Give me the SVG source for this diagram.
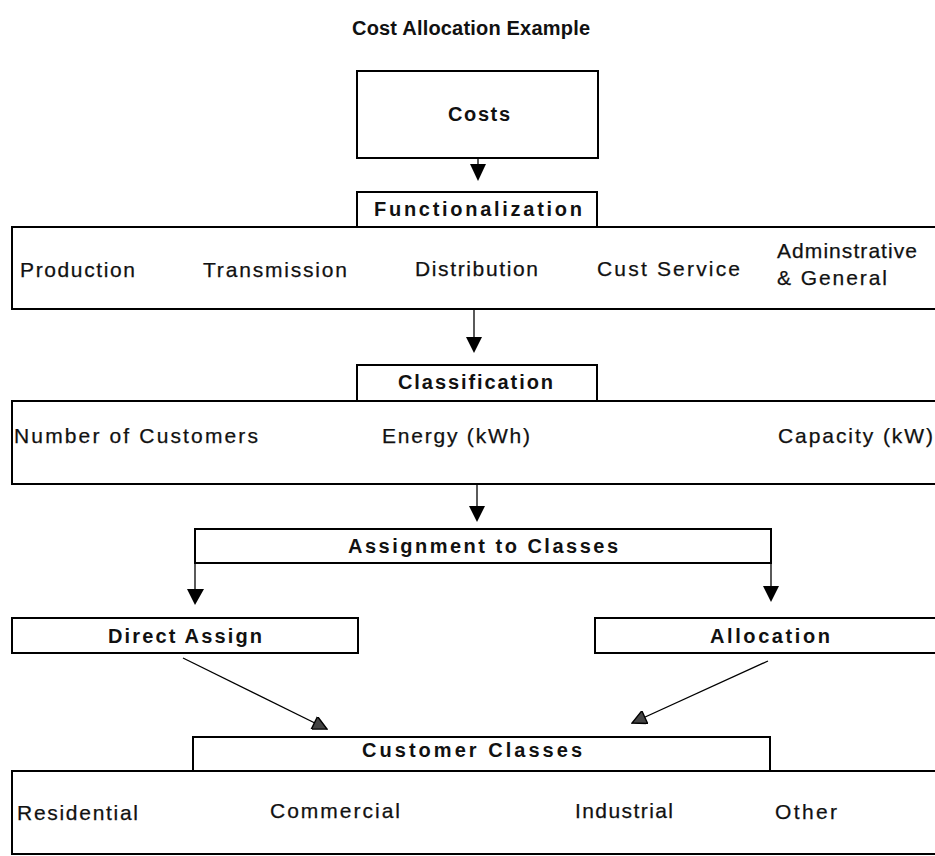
<svg xmlns="http://www.w3.org/2000/svg" width="935" height="856" viewBox="0 0 935 856">
<defs>
<style>
.box{fill:#fff;stroke:#000;stroke-width:2}
.t{font-family:"Liberation Sans",Arial,sans-serif;font-size:21px;fill:#111;stroke:#111;stroke-width:0.25}
.b{font-family:"Liberation Sans",Arial,sans-serif;font-size:20px;font-weight:bold;fill:#111}
.ln{stroke:#000;stroke-width:1.3;fill:none}
.head{fill:#000}
</style>
<marker id="tri" viewBox="0 0 10 10" refX="10" refY="5" markerWidth="17" markerHeight="14" markerUnits="userSpaceOnUse" orient="auto">
<path d="M0,0 L10,5 L0,10 Z" fill="#444" stroke="#000" stroke-width="1"/>
</marker>
</defs>
<rect width="935" height="856" fill="#fff"/>
<text id="title" class="b" x="352" y="35" font-size="17" textLength="238" lengthAdjust="spacing">Cost Allocation Example</text>

<g id="connectors">
<line class="ln" x1="478" y1="158" x2="478" y2="170"/>
<path class="head" d="M470,164 L486,164 L478,181 Z"/>
<line class="ln" x1="474" y1="309" x2="474" y2="340"/>
<path class="head" d="M466,337 L482,337 L474,353 Z"/>
<line class="ln" x1="477" y1="484" x2="477" y2="510"/>
<path class="head" d="M469,506 L485,506 L477,522 Z"/>
<line class="ln" x1="195" y1="563" x2="195" y2="592"/>
<path class="head" d="M187,589 L204,589 L195,605 Z"/>
<line class="ln" x1="771" y1="563" x2="771" y2="590"/>
<path class="head" d="M763,586 L779,586 L771,602 Z"/>
<line class="ln" x1="183" y1="658" x2="327" y2="729" marker-end="url(#tri)"/>
<line class="ln" x1="768" y1="661" x2="632" y2="723" marker-end="url(#tri)"/>
</g>

<g id="costs">
<rect class="box" x="357" y="71" width="241" height="87"/>
<text class="b" x="448" y="121" textLength="62" lengthAdjust="spacing">Costs</text>
</g>

<g id="functions">
<rect class="box" x="12" y="227" width="930" height="82"/>
<text class="t" x="20" y="277" textLength="115" lengthAdjust="spacing">Production</text>
<text class="t" x="203" y="277" textLength="144" lengthAdjust="spacing">Transmission</text>
<text class="t" x="415" y="276" textLength="123" lengthAdjust="spacing">Distribution</text>
<text class="t" x="597" y="276" textLength="143" lengthAdjust="spacing">Cust Service</text>
<text class="t" x="777" y="258" textLength="140" lengthAdjust="spacing">Adminstrative</text>
<text class="t" x="777" y="285" textLength="110" lengthAdjust="spacing">&amp; General</text>
</g>
<g id="functionalization">
<rect class="box" x="357" y="192" width="240" height="35"/>
<text class="b" x="374" y="216" textLength="208" lengthAdjust="spacing">Functionalization</text>
</g>

<g id="classes-of-cost">
<rect class="box" x="12" y="401" width="930" height="83"/>
<text class="t" x="14" y="443" textLength="244" lengthAdjust="spacing">Number of Customers</text>
<text class="t" x="382" y="443" textLength="148" lengthAdjust="spacing">Energy (kWh)</text>
<text class="t" x="778" y="443" textLength="155" lengthAdjust="spacing">Capacity (kW)</text>
</g>
<g id="classification">
<rect class="box" x="357" y="365" width="240" height="36"/>
<text class="b" x="398" y="389" textLength="155" lengthAdjust="spacing">Classification</text>
</g>

<g id="assignment">
<rect class="box" x="195" y="529" width="576" height="34"/>
<text class="b" x="348" y="553" textLength="270" lengthAdjust="spacing">Assignment to Classes</text>
</g>

<g id="direct-assign">
<rect class="box" x="12" y="618" width="346" height="35"/>
<text class="b" x="108" y="643" textLength="154" lengthAdjust="spacing">Direct Assign</text>
</g>

<g id="allocation">
<rect class="box" x="595" y="618" width="350" height="35"/>
<text class="b" x="710" y="643" textLength="120" lengthAdjust="spacing">Allocation</text>
</g>

<g id="customer-list">
<rect class="box" x="12" y="771" width="930" height="83"/>
<text class="t" x="17" y="820" textLength="121" lengthAdjust="spacing">Residential</text>
<text class="t" x="270" y="818" textLength="130" lengthAdjust="spacing">Commercial</text>
<text class="t" x="575" y="818" textLength="98" lengthAdjust="spacing">Industrial</text>
<text class="t" x="775" y="819" textLength="62" lengthAdjust="spacing">Other</text>
</g>
<g id="customer-classes">
<rect class="box" x="193" y="737" width="577" height="34"/>
<text class="b" x="362" y="757" textLength="220" lengthAdjust="spacing">Customer Classes</text>
</g>
</svg>
